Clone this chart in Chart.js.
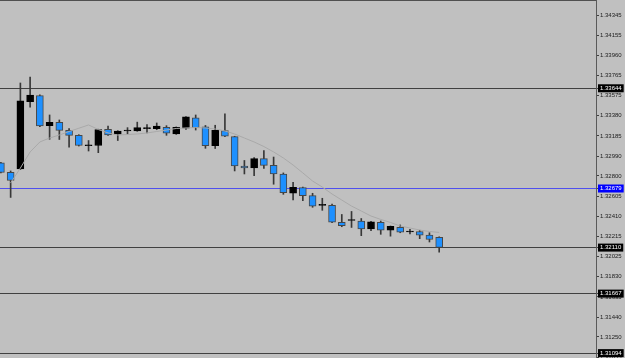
<!DOCTYPE html>
<html lang="en">
<head>
  <meta charset="UTF-8">
  <title>Candles</title>
  <script src="https://cdn.jsdelivr.net/npm/chart.js"></script>
  <style>
    html, body {
      margin: 0;
      padding: 0;
      background-color: #c0c0c0;
    }
    .chart-container {
      position: relative;
      width: 625px;
      height: 358px;
    }
  </style>
</head>
<body>

<div class="chart-container">
  <canvas id="priceChart"></canvas>
</div>

<script>
  // OHLC per bar
  const open = [1.32925, 1.32835, 1.32867, 1.33515, 1.33573, 1.33284, 1.33315, 1.33240, 1.33192, 1.33091,
                1.33093, 1.33249, 1.33201, 1.33233, 1.33233, 1.33255, 1.33254, 1.33269, 1.33204, 1.33260,
                1.33360, 1.33273, 1.33091, 1.33236, 1.33178, 1.32896, 1.32876, 1.32966, 1.32902, 1.32817,
                1.32633, 1.32689, 1.32610, 1.32517, 1.32517, 1.32353, 1.32371, 1.32366, 1.32289, 1.32353,
                1.32279, 1.32306, 1.32260, 1.32265, 1.32231, 1.32210];
  const high = [1.32930, 1.32848, 1.33695, 1.33753, 1.33580, 1.33387, 1.33339, 1.33257, 1.33197, 1.33141,
                1.33250, 1.33281, 1.33236, 1.33265, 1.33318, 1.33295, 1.33310, 1.33284, 1.33272, 1.33372,
                1.33387, 1.33286, 1.33288, 1.33397, 1.33182, 1.32949, 1.32976, 1.33045, 1.32982, 1.32829,
                1.32739, 1.32693, 1.32633, 1.32585, 1.32530, 1.32429, 1.32458, 1.32390, 1.32362, 1.32366,
                1.32318, 1.32328, 1.32286, 1.32277, 1.32253, 1.32214];
  const low = [1.32828, 1.32593, 1.32862, 1.33461, 1.33275, 1.33153, 1.33151, 1.33076, 1.33088, 1.33040,
               1.33024, 1.33190, 1.33141, 1.33204, 1.33230, 1.33214, 1.33245, 1.33191, 1.33200, 1.33249,
               1.33242, 1.33066, 1.33064, 1.33178, 1.32848, 1.32819, 1.32803, 1.32872, 1.32720, 1.32623,
               1.32568, 1.32563, 1.32498, 1.32469, 1.32350, 1.32311, 1.32304, 1.32225, 1.32272, 1.32238,
               1.32220, 1.32253, 1.32241, 1.32196, 1.32164, 1.32066];
  const close = [1.32833, 1.32756, 1.33522, 1.33579, 1.33281, 1.33315, 1.33238, 1.33191, 1.33093, 1.33091,
                 1.33247, 1.33194, 1.33233, 1.33233, 1.33265, 1.33255, 1.33279, 1.33211, 1.33267, 1.33368,
                 1.33265, 1.33091, 1.33240, 1.33182, 1.32896, 1.32876, 1.32966, 1.32902, 1.32819, 1.32639,
                 1.32691, 1.32609, 1.32510, 1.32517, 1.32356, 1.32320, 1.32371, 1.32291, 1.32358, 1.32279,
                 1.32315, 1.32258, 1.32260, 1.32229, 1.32188, 1.32112];

  // moving average (first bar has no value)
  const movingAvg = [null, 1.32732, 1.32876, 1.33031, 1.33127, 1.33165, 1.33194, 1.33228, 1.33259, 1.33291,
                     1.33247, 1.33214, 1.33194, 1.33199, 1.33204, 1.33214, 1.33228, 1.33242, 1.33257, 1.33262,
                     1.33266, 1.33262, 1.33252, 1.33233, 1.33204, 1.33165, 1.33127, 1.33083, 1.33031, 1.32973,
                     1.32905, 1.32829, 1.32751, 1.32693, 1.32626, 1.32568, 1.32510, 1.32462, 1.32414, 1.32381,
                     1.32352, 1.32318, 1.32299, 1.32279, 1.32265, 1.32256];

  // price scale labels and horizontal levels
  const tickValues = [1.34345, 1.34155, 1.33960, 1.33765, 1.33575, 1.33380, 1.33185, 1.32990, 1.32800,
                      1.32605, 1.32410, 1.32215, 1.32025, 1.31830, 1.31635, 1.31440, 1.31250, 1.31055];
  const levels = [1.33644, 1.32679, 1.32110, 1.31667, 1.31094];

  const levelColors = ['#000000', '#0000ff', '#000000', '#000000', '#000000'];
  const levelLineColors = ['#404040', '#5050ee', '#404040', '#404040', '#404040'];

  document.addEventListener("DOMContentLoaded", function () {
    const levelIndex = (ctx) => ctx.tick ? levels.indexOf(ctx.tick.value) : -1;
    const isBear = close.map((c, i) => c < open[i]);

    const ctx = document.getElementById('priceChart').getContext('2d');
    new Chart(ctx, {
      type: 'bar',
      data: {
        datasets: [
          {
            type: 'line',
            data: movingAvg.map((v, i) => ({ x: i, y: v })),
            borderColor: '#a9a9a9',
            borderWidth: 1,
            pointRadius: 0,
            spanGaps: false,
            order: 0
          },
          {
            data: open.map((o, i) => ({ x: i, y: [o, close[i]] })),
            backgroundColor: isBear.map(b => b ? '#1e90ff' : '#000000'),
            borderColor: isBear.map(b => b ? '#474747' : '#000000'),
            borderWidth: 1,
            borderSkipped: false,
            barThickness: 7,
            minBarLength: 1,
            grouped: false,
            order: 1
          },
          {
            data: low.map((l, i) => ({ x: i, y: [l, high[i]] })),
            backgroundColor: '#383838',
            borderWidth: 0,
            barThickness: 1,
            grouped: false,
            order: 2
          }
        ]
      },
      options: {
        responsive: true,
        maintainAspectRatio: false,
        animation: false,
        layout: { padding: 0 },
        plugins: {
          legend: { display: false },
          tooltip: { enabled: false }
        },
        scales: {
          x: {
            type: 'linear',
            position: 'top',
            offset: false,
            min: -0.0924,
            max: 61.1,
            afterFit: (scale) => { scale.height = 0; },
            ticks: { display: false },
            grid: { display: false, drawTicks: false },
            border: { display: true, color: '#505050', width: 2 }
          },
          y: {
            position: 'right',
            min: 1.31047,
            max: 1.34494,
            afterFit: (scale) => {
              scale.width = 29;
              // labels near the edges may be clipped, keep the full height for the plot
              scale.paddingTop = 0;
              scale.paddingBottom = 0;
            },
            afterBuildTicks: (scale) => {
              scale.ticks = tickValues.concat(levels).map(v => ({ value: v }));
            },
            border: { display: true, color: '#5a5a5a', width: 1 },
            grid: {
              drawTicks: true,
              tickLength: 3,
              color: (c) => {
                const k = levelIndex(c);
                return k >= 0 ? levelLineColors[k] : 'rgba(0,0,0,0)';
              },
              tickColor: '#404040',
              lineWidth: 1
            },
            ticks: {
              autoSkip: false,
              padding: 1,
              font: { family: 'Liberation Sans', size: 6, lineHeight: 1 },
              color: (c) => levelIndex(c) >= 0 ? '#ffffff' : '#202020',
              showLabelBackdrop: (c) => levelIndex(c) >= 0,
              backdropColor: (c) => {
                const k = levelIndex(c);
                return k >= 0 ? levelColors[k] : 'rgba(0,0,0,0)';
              },
              backdropPadding: { x: 2, y: 1 },
              callback: (value) => Number(value).toFixed(5)
            }
          }
        }
      }
    });
  });
</script>

</body>
</html>
